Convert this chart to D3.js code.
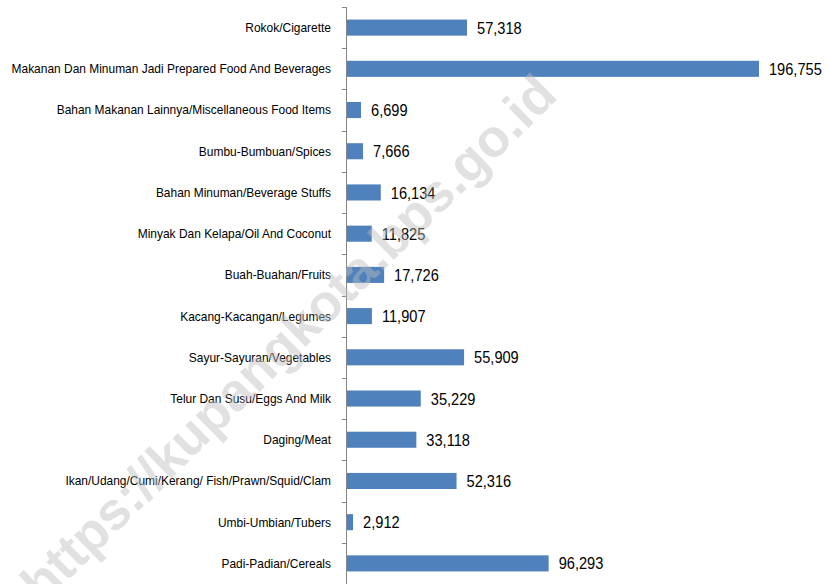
<!DOCTYPE html>
<html><head><meta charset="utf-8">
<script src="https://cdn.jsdelivr.net/npm/d3@7"></script>
<style>body{margin:0;background:#fff}svg{display:block}</style>
</head><body>
<svg id="c" width="828" height="584"></svg>
<script>
const categories = [
  "Rokok/Cigarette",
  "Makanan Dan Minuman Jadi Prepared Food And Beverages",
  "Bahan Makanan Lainnya/Miscellaneous Food Items",
  "Bumbu-Bumbuan/Spices",
  "Bahan Minuman/Beverage Stuffs",
  "Minyak Dan Kelapa/Oil And Coconut",
  "Buah-Buahan/Fruits",
  "Kacang-Kacangan/Legumes",
  "Sayur-Sayuran/Vegetables",
  "Telur Dan Susu/Eggs And Milk",
  "Daging/Meat",
  "Ikan/Udang/Cumi/Kerang/ Fish/Prawn/Squid/Clam",
  "Umbi-Umbian/Tubers",
  "Padi-Padian/Cereals"
];
const values = [57318, 196755, 6699, 7666, 16134, 11825, 17726, 11907, 55909, 35229, 33118, 52316, 2912, 96293];
const watermark = "https://kupangkota.bps.go.id";

const svg = d3.select("#c");
const x = d3.scaleLinear().domain([0, d3.max(values)]).range([347, 759]);
const y = d3.scaleBand().domain(categories).range([7, 584]).paddingInner(0.61).paddingOuter(0.305);

// axis line + ticks at band boundaries
const axisG = svg.append("g");
axisG.append("line").attr("x1", 346.5).attr("x2", 346.5).attr("y1", 7).attr("y2", 584)
  .attr("stroke", "#868686").attr("stroke-width", 1);
const step = y.step();
d3.range(categories.length + 1).forEach(i => {
  const yy = Math.round(7 + i * step) + 0.5;
  axisG.append("line").attr("x1", 342).attr("x2", 346.5).attr("y1", yy).attr("y2", yy)
    .attr("stroke", "#868686");
});

const font = "Liberation Sans, Arial, sans-serif";

svg.append("g").selectAll("text").data(categories).join("text")
  .attr("transform", d => `translate(331,${y(d) + y.bandwidth() / 2}) scale(0.95,1)`)
  .attr("dy", "0.35em").attr("text-anchor", "end")
  .attr("font-family", font).attr("font-size", 12.6)
  .attr("fill", "#000").text(d => d);

svg.append("g").selectAll("rect").data(values).join("rect")
  .attr("x", x(0)).attr("y", (d, i) => y(categories[i]))
  .attr("width", d => x(d) - x(0)).attr("height", y.bandwidth())
  .attr("fill", "#4f81bd");

const fmt = d3.format(",");
svg.append("g").selectAll("text").data(values).join("text")
  .attr("transform", (d, i) => `translate(${x(d) + 10},${y(categories[i]) + y.bandwidth() / 2}) scale(0.87,1)`)
  .attr("dy", "0.36em")
  .attr("font-family", font).attr("font-size", 16.8)
  .attr("fill", "#000").text(d => fmt(d));

svg.append("text")
  .attr("transform", "translate(288,338) rotate(-44.5)")
  .attr("text-anchor", "middle").attr("dy", "0.35em")
  .attr("font-family", font).attr("font-weight", "bold")
  .attr("font-size", 53).attr("fill", "#bdbdbd").attr("fill-opacity", 0.45)
  .text(watermark);
</script>
</body></html>
